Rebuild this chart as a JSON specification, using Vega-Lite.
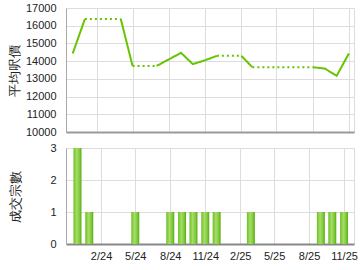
{
  "$schema": "https://vega.github.io/schema/vega-lite/v6.json",
  "background": "white",
  "padding": {"left": 7, "top": 1, "right": 7, "bottom": 5},
  "spacing": 16,
  "bounds": "flush",
  "config": {
    "view": {"stroke": "#dddddd"},
    "font": "Liberation Sans",
    "axis": {
      "labelFont": "Liberation Sans",
      "labelFontSize": 11,
      "labelColor": "#222222",
      "gridColor": "#dddddd",
      "ticks": false,
      "titleFont": "Liberation Sans",
      "titleFontWeight": "normal",
      "titleFontSize": 13,
      "titleColor": "#222222"
    }
  },
  "datasets": {
    "price": [
      {"date": "2023-12-01", "value": 14430, "seg": "s1", "style": "solid"},
      {"date": "2024-01-01", "value": 16380, "seg": "s1", "style": "solid"},
      {"date": "2024-01-01", "value": 16380, "seg": "d1", "style": "dotted"},
      {"date": "2024-04-01", "value": 16380, "seg": "d1", "style": "dotted"},
      {"date": "2024-04-01", "value": 16380, "seg": "s2", "style": "solid"},
      {"date": "2024-05-01", "value": 13730, "seg": "s2", "style": "solid"},
      {"date": "2024-05-01", "value": 13730, "seg": "d2", "style": "dotted"},
      {"date": "2024-07-01", "value": 13730, "seg": "d2", "style": "dotted"},
      {"date": "2024-07-01", "value": 13730, "seg": "s3", "style": "solid"},
      {"date": "2024-08-01", "value": 14100, "seg": "s3", "style": "solid"},
      {"date": "2024-09-01", "value": 14470, "seg": "s3", "style": "solid"},
      {"date": "2024-10-01", "value": 13830, "seg": "s3", "style": "solid"},
      {"date": "2024-11-01", "value": 14050, "seg": "s3", "style": "solid"},
      {"date": "2024-12-01", "value": 14300, "seg": "s3", "style": "solid"},
      {"date": "2024-12-01", "value": 14300, "seg": "d3", "style": "dotted"},
      {"date": "2025-02-01", "value": 14300, "seg": "d3", "style": "dotted"},
      {"date": "2025-02-01", "value": 14300, "seg": "s4", "style": "solid"},
      {"date": "2025-03-01", "value": 13660, "seg": "s4", "style": "solid"},
      {"date": "2025-03-01", "value": 13660, "seg": "d4", "style": "dotted"},
      {"date": "2025-08-01", "value": 13660, "seg": "d4", "style": "dotted"},
      {"date": "2025-08-01", "value": 13660, "seg": "s5", "style": "solid"},
      {"date": "2025-09-01", "value": 13580, "seg": "s5", "style": "solid"},
      {"date": "2025-10-01", "value": 13170, "seg": "s5", "style": "solid"},
      {"date": "2025-11-01", "value": 14430, "seg": "s5", "style": "solid"}
    ],
    "deals": [
      {"date": "2023-12-01", "count": 3},
      {"date": "2024-01-01", "count": 1},
      {"date": "2024-05-01", "count": 1},
      {"date": "2024-08-01", "count": 1},
      {"date": "2024-09-01", "count": 1},
      {"date": "2024-10-01", "count": 1},
      {"date": "2024-11-01", "count": 1},
      {"date": "2024-12-01", "count": 1},
      {"date": "2025-03-01", "count": 1},
      {"date": "2025-09-01", "count": 1},
      {"date": "2025-10-01", "count": 1},
      {"date": "2025-11-01", "count": 1}
    ]
  },
  "vconcat": [
    {
      "width": 288,
      "height": 124,
      "data": {"name": "price"},
      "mark": {"type": "line", "color": "#66c400", "strokeWidth": 2},
      "encoding": {
        "x": {
          "field": "date", "type": "temporal",
          "scale": {"type": "utc", "domain": [{"year": 2023, "month": 11, "date": 14, "utc": true}, {"year": 2025, "month": 11, "date": 14, "utc": true}]},
          "axis": {
            "title": null, "labels": false, "grid": true,
            "domainColor": "#999999", "domainWidth": 2,
            "values": [
              {"year": 2024, "month": 2, "date": 1, "utc": true},
              {"year": 2024, "month": 5, "date": 1, "utc": true},
              {"year": 2024, "month": 8, "date": 1, "utc": true},
              {"year": 2024, "month": 11, "date": 1, "utc": true},
              {"year": 2025, "month": 2, "date": 1, "utc": true},
              {"year": 2025, "month": 5, "date": 1, "utc": true},
              {"year": 2025, "month": 8, "date": 1, "utc": true},
              {"year": 2025, "month": 11, "date": 1, "utc": true}
            ]
          }
        },
        "y": {
          "field": "value", "type": "quantitative",
          "scale": {"domain": [10000, 17000]},
          "axis": {
            "title": "平均呎價", "titlePadding": 4, "labelPadding": 10, "format": "d",
            "values": [10000, 11000, 12000, 13000, 14000, 15000, 16000, 17000],
            "domainColor": "#aaaaaa"
          }
        },
        "detail": {"field": "seg"},
        "strokeDash": {
          "field": "style", "type": "nominal",
          "scale": {"domain": ["solid", "dotted"], "range": [[1, 0], [2, 3]]},
          "legend": null
        }
      }
    },
    {
      "width": 288,
      "height": 96,
      "data": {"name": "deals"},
      "mark": {
        "type": "bar", "size": 8,
        "color": {
          "gradient": "linear", "x1": 0, "x2": 1, "y1": 0, "y2": 0,
          "stops": [
            {"offset": 0, "color": "#6cc020"},
            {"offset": 0.4, "color": "#a8dc6c"},
            {"offset": 0.75, "color": "#7fcc38"},
            {"offset": 1, "color": "#5aa816"}
          ]
        }
      },
      "encoding": {
        "x": {
          "field": "date", "type": "temporal",
          "scale": {"type": "utc", "domain": [{"year": 2023, "month": 11, "date": 14, "utc": true}, {"year": 2025, "month": 11, "date": 14, "utc": true}]},
          "axis": {
            "title": null, "grid": true, "format": "%-m/%y", "labelPadding": 6,
            "domainColor": "#888888", "domainWidth": 2,
            "values": [
              {"year": 2024, "month": 2, "date": 1, "utc": true},
              {"year": 2024, "month": 5, "date": 1, "utc": true},
              {"year": 2024, "month": 8, "date": 1, "utc": true},
              {"year": 2024, "month": 11, "date": 1, "utc": true},
              {"year": 2025, "month": 2, "date": 1, "utc": true},
              {"year": 2025, "month": 5, "date": 1, "utc": true},
              {"year": 2025, "month": 8, "date": 1, "utc": true},
              {"year": 2025, "month": 11, "date": 1, "utc": true}
            ]
          }
        },
        "y": {
          "field": "count", "type": "quantitative",
          "scale": {"domain": [0, 3]},
          "axis": {
            "title": "成交宗數", "titlePadding": 27, "labelPadding": 10,
            "values": [0, 1, 2, 3], "domainColor": "#aaaaaa"
          }
        }
      }
    }
  ]
}
